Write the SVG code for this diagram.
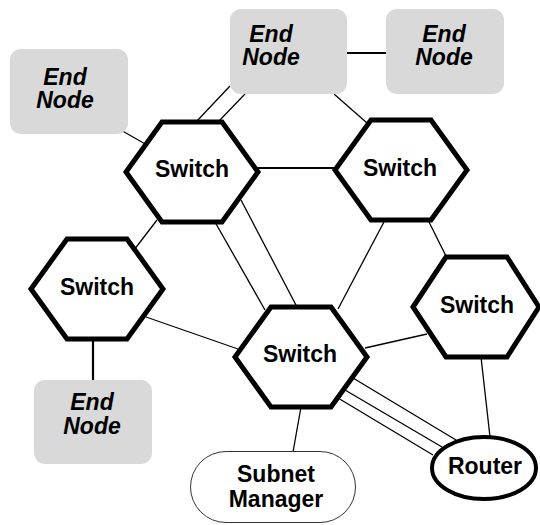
<svg xmlns="http://www.w3.org/2000/svg" width="540" height="525" viewBox="0 0 540 525">
<style>
.bg{fill:#ffffff}
.link{stroke:#000;stroke-width:1.3;fill:none}
.link2{stroke:#000;stroke-width:2.2;fill:none}
.sw{fill:#fff;stroke:#000;stroke-width:5;stroke-linejoin:miter}
.en{fill:#d9d9d9;stroke:none}
.rt{fill:#fff;stroke:#000;stroke-width:4}
.sm{fill:#fff;stroke:#333;stroke-width:1}
.t{font-family:"Liberation Sans",Arial,sans-serif;font-weight:bold;font-size:23px;fill:#000;text-anchor:middle}
.ti{font-style:italic}
</style>
<rect class="bg" x="0" y="0" width="540" height="525"/>
<g id="connectors">
<line class="link" x1="119" y1="129" x2="147" y2="145"/>
<line class="link" x1="230" y1="86" x2="196" y2="122"/>
<line class="link" x1="245" y1="94" x2="218" y2="122"/>
<line class="link2" x1="347" y1="53" x2="386" y2="53"/>
<line class="link" x1="334" y1="94" x2="367" y2="123"/>
<line class="link2" x1="256" y1="168" x2="337" y2="168"/>
<line class="link" x1="157" y1="220" x2="134" y2="250"/>
<line class="link" x1="215" y1="222" x2="265" y2="310"/>
<line class="link" x1="241" y1="200" x2="297" y2="307"/>
<line class="link" x1="385" y1="220" x2="338" y2="309"/>
<line class="link" x1="428" y1="220" x2="447" y2="258"/>
<line class="link" x1="146" y1="317" x2="238" y2="349"/>
<line class="link2" x1="93" y1="339" x2="93" y2="380"/>
<line class="link" x1="427" y1="334" x2="365" y2="348"/>
<line class="link" x1="481" y1="357" x2="490" y2="437"/>
<line class="link" x1="353" y1="378" x2="456" y2="440"/>
<line class="link" x1="345" y1="390" x2="442" y2="447"/>
<line class="link" x1="338" y1="398" x2="433" y2="455"/>
<line class="link" x1="301" y1="407" x2="293" y2="452"/>
</g>
<g id="endnode-topleft">
<rect class="en" x="10" y="49" width="118" height="85" rx="11"/>
<text class="t ti" x="65" y="85">End</text>
<text class="t ti" x="65" y="108">Node</text>
</g>
<g id="endnode-topcenter">
<rect class="en" x="230" y="9" width="117" height="85" rx="11"/>
<text class="t ti" x="271" y="42">End</text>
<text class="t ti" x="271" y="65">Node</text>
</g>
<g id="endnode-topright">
<rect class="en" x="386" y="9" width="118" height="85" rx="11"/>
<text class="t ti" x="444" y="42">End</text>
<text class="t ti" x="444" y="65">Node</text>
</g>
<g id="endnode-bottomleft">
<rect class="en" x="34" y="380" width="118" height="84" rx="11"/>
<text class="t ti" x="92" y="410">End</text>
<text class="t ti" x="92" y="434">Node</text>
</g>
<g id="switch-topleft">
<polygon class="sw" points="126,172 162,122 222,122 258,172 222,222 162,222"/>
<text class="t" x="192" y="177">Switch</text>
</g>
<g id="switch-topright">
<polygon class="sw" points="335,170 371,120 431,120 467,170 431,220 371,220"/>
<text class="t" x="400" y="176">Switch</text>
</g>
<g id="switch-left">
<polygon class="sw" points="31,289 67,239 127,239 163,289 127,339 67,339"/>
<text class="t" x="97" y="295">Switch</text>
</g>
<g id="switch-middle">
<polygon class="sw" points="235,357 271,307 331,307 367,357 331,407 271,407"/>
<text class="t" x="300" y="362">Switch</text>
</g>
<g id="switch-right">
<polygon class="sw" points="413,307 446,257 507,257 539,307 507,357 446,357"/>
<text class="t" x="477" y="313">Switch</text>
</g>
<g id="router">
<ellipse class="rt" cx="484" cy="468" rx="52" ry="31"/>
<text class="t" x="485" y="474">Router</text>
</g>
<g id="subnet-manager">
<rect class="sm" x="190.5" y="451.5" width="165" height="71" rx="35.5"/>
<text class="t" x="276" y="482">Subnet</text>
<text class="t" x="276" y="507">Manager</text>
</g>
</svg>
